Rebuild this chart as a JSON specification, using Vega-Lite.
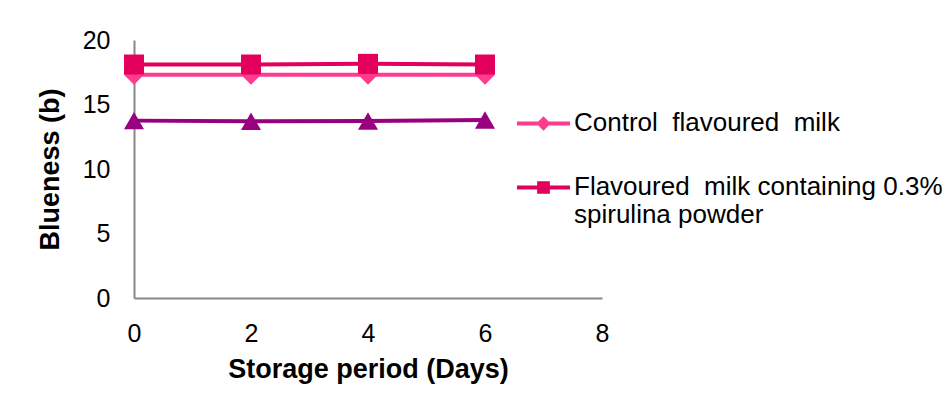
{
  "$schema": "https://vega.github.io/schema/vega-lite/v6.json",
  "autosize": "none",
  "width": 468,
  "height": 258,
  "padding": {"left": 134, "top": 40, "right": 347, "bottom": 113},
  "background": "white",
  "config": {
    "view": {"stroke": null},
    "font": "Liberation Sans",
    "axis": {
      "domainColor": "#888888",
      "domainWidth": 2,
      "ticks": false,
      "grid": false,
      "labelFlush": false,
      "labelFont": "Liberation Sans",
      "labelFontSize": 25,
      "labelColor": "#000000",
      "titleFont": "Liberation Sans",
      "titleFontSize": 27,
      "titleFontWeight": "bold",
      "titleColor": "#000000"
    }
  },
  "data": {
    "values": [
      {"Series": "Control  flavoured  milk", "Day": 0, "Blueness": 17.3},
      {"Series": "Control  flavoured  milk", "Day": 2, "Blueness": 17.3},
      {"Series": "Control  flavoured  milk", "Day": 4, "Blueness": 17.3},
      {"Series": "Control  flavoured  milk", "Day": 6, "Blueness": 17.3},
      {"Series": "Flavoured  milk containing 0.3% spirulina powder", "Day": 0, "Blueness": 18.1},
      {"Series": "Flavoured  milk containing 0.3% spirulina powder", "Day": 2, "Blueness": 18.1},
      {"Series": "Flavoured  milk containing 0.3% spirulina powder", "Day": 4, "Blueness": 18.15},
      {"Series": "Flavoured  milk containing 0.3% spirulina powder", "Day": 6, "Blueness": 18.1},
      {"Series": "Third series", "Day": 0, "Blueness": 13.75},
      {"Series": "Third series", "Day": 2, "Blueness": 13.7},
      {"Series": "Third series", "Day": 4, "Blueness": 13.72},
      {"Series": "Third series", "Day": 6, "Blueness": 13.8}
    ]
  },
  "encoding": {
    "x": {
      "field": "Day", "type": "quantitative",
      "scale": {"domain": [0, 8], "nice": false, "zero": false},
      "axis": {"values": [0, 2, 4, 6, 8], "labelPadding": 23, "title": "Storage period (Days)", "titlePadding": 10}
    },
    "y": {
      "field": "Blueness", "type": "quantitative",
      "scale": {"domain": [0, 20], "nice": false},
      "axis": {"values": [0, 5, 10, 15, 20], "labelPadding": 24, "title": "Blueness (b)", "titlePadding": 18}
    },
    "color": {
      "field": "Series", "type": "nominal",
      "scale": {
        "domain": ["Control  flavoured  milk", "Flavoured  milk containing 0.3% spirulina powder", "Third series"],
        "range": ["#FF3C8E", "#E2005C", "#99007F"]
      },
      "legend": {
        "values": ["Control  flavoured  milk", "Flavoured  milk containing 0.3% spirulina powder"],
        "title": null,
        "orient": "none",
        "legendX": 383,
        "legendY": 57,
        "symbolSize": 2809,
        "labelOffset": 4,
        "labelFont": "Liberation Sans",
        "labelFontSize": 26,
        "labelColor": "#000000",
        "labelLimit": 800,
        "labelBaseline": "top",
        "rowPadding": 25,
        "labelExpr": "datum.label == 'Control  flavoured  milk' ? 'Control\u00a0 flavoured\u00a0 milk' : ['Flavoured\u00a0 milk containing 0.3%', 'spirulina powder']",
        "encode": {
          "symbols": {
            "update": {
              "shape": {"signal": "datum.value == 'Control  flavoured  milk' ? 'M-1,-0.075L1,-0.075L1,0.075L-1,0.075Z M0,-0.27L0.27,0L0,0.27L-0.27,0Z' : 'M-1,-0.075L1,-0.075L1,0.075L-1,0.075Z M-0.24,-0.24L0.24,-0.24L0.24,0.24L-0.24,0.24Z'"},
              "fill": {"scale": "color", "field": "value"},
              "fillOpacity": {"value": 1},
              "strokeWidth": {"value": 0},
              "size": {"value": 2809}
            }
          },
          "labels": {
            "update": {
              "dy": {"value": -14}
            }
          }
        }
      }
    }
  },
  "layer": [
    {
      "mark": {"type": "line", "strokeWidth": 4}
    },
    {
      "transform": [{"filter": "datum.Series == 'Control  flavoured  milk'"}],
      "mark": {"type": "point", "filled": true, "opacity": 1, "size": 400, "shape": "diamond"}
    },
    {
      "transform": [{"filter": "datum.Series == 'Flavoured  milk containing 0.3% spirulina powder'"}],
      "mark": {"type": "point", "filled": true, "opacity": 1, "size": 400, "shape": "square"}
    },
    {
      "transform": [{"filter": "datum.Series == 'Third series'"}],
      "mark": {"type": "point", "filled": true, "opacity": 1, "size": 400, "shape": "triangle-up"}
    }
  ]
}
